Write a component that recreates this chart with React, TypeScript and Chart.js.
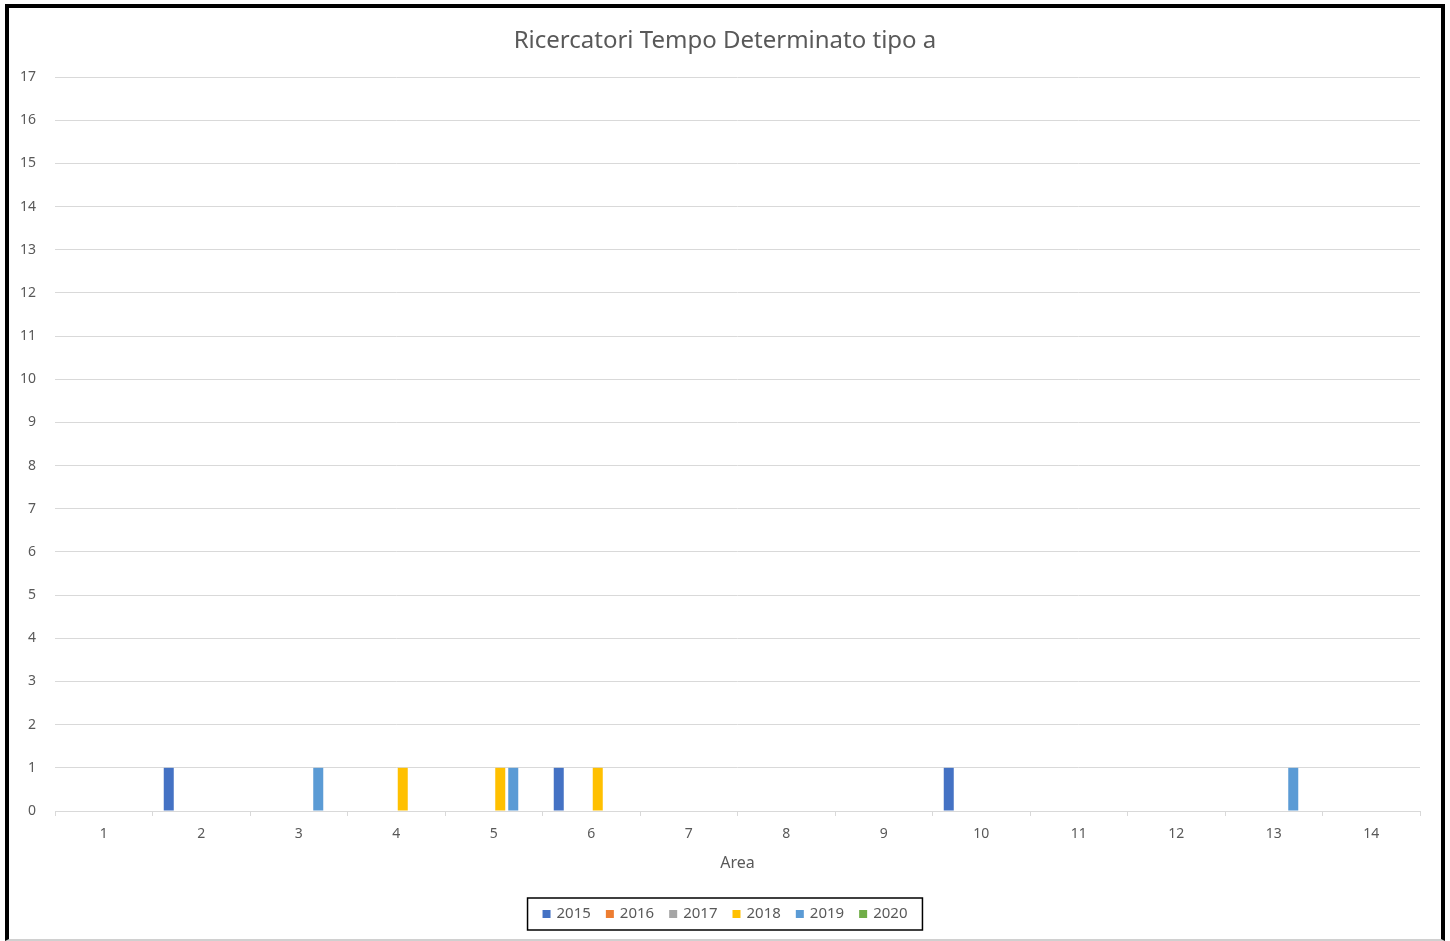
import React, { useEffect, useRef } from "react";
import { Chart, registerables } from "chart.js";

Chart.register(...registerables);

const categories = ["1", "2", "3", "4", "5", "6", "7", "8", "9", "10", "11", "12", "13", "14"];
const seriesNames = ["2015", "2016", "2017", "2018", "2019", "2020"];
const values2015 = [0, 1, 0, 0, 0, 1, 0, 0, 0, 1, 0, 0, 0, 0];
const values2016 = [0, 0, 0, 0, 0, 0, 0, 0, 0, 0, 0, 0, 0, 0];
const values2017 = [0, 0, 0, 0, 0, 0, 0, 0, 0, 0, 0, 0, 0, 0];
const values2018 = [0, 0, 0, 1, 1, 1, 0, 0, 0, 0, 0, 0, 0, 0];
const values2019 = [0, 0, 1, 0, 1, 0, 0, 0, 0, 0, 0, 0, 1, 0];
const values2020 = [0, 0, 0, 0, 0, 0, 0, 0, 0, 0, 0, 0, 0, 0];
const seriesColors = ["#4472C4", "#ED7D31", "#A5A5A5", "#FFC000", "#5B9BD5", "#70AD47"];
const yMin = 0;
const yMax = 17;
const titleText = "Ricercatori Tempo Determinato tipo a";
const xTitleText = "Area";

const FONT = "'Noto Sans', 'Open Sans', sans-serif";
const TEXT = "#595959";
const GRID = "#d9d9d9";

const legendPlugin = {
  id: "boxLegend",
  afterDraw(chart: any) {
    const ctx = chart.ctx;
    const ds = chart.data.datasets;
    ctx.save();
    ctx.font = `15px ${FONT}`;
    const box = 8;
    const gap = 6;
    const spacing = 15;
    const widths = ds.map((d: any) => ctx.measureText(d.label).width);
    let total = 0;
    widths.forEach((w: number, i: number) => {
      total += box + gap + w + (i < widths.length - 1 ? spacing : 0);
    });
    const cx = chart.width / 2;
    const cy = 906;
    const padX = 15;
    const left = cx - total / 2;
    ctx.strokeStyle = "#000";
    ctx.lineWidth = 1.5;
    ctx.strokeRect(left - padX, cy - 16, total + padX * 2, 32);
    let x = left;
    ctx.textBaseline = "middle";
    ds.forEach((d: any, i: number) => {
      ctx.fillStyle = d.backgroundColor;
      ctx.fillRect(x, cy - box / 2, box, box);
      x += box + gap;
      ctx.fillStyle = TEXT;
      ctx.fillText(d.label, x, cy);
      x += widths[i] + spacing;
    });
    ctx.restore();
  },
};

export default function App() {
  const ref = useRef<HTMLCanvasElement | null>(null);
  useEffect(() => {
    if (!ref.current) return;
    const allValues = [values2015, values2016, values2017, values2018, values2019, values2020];
    const chart = new Chart(ref.current, {
      type: "bar",
      data: {
        labels: categories,
        datasets: seriesNames.map((name, i) => ({
          label: name,
          data: allValues[i],
          backgroundColor: seriesColors[i],
          borderWidth: 0,
          categoryPercentage: 0.8,
          barPercentage: 0.77,
        })),
      },
      options: {
        responsive: false,
        animation: false,
        layout: { padding: { left: 0, right: 0, top: 0, bottom: 58 } },
        plugins: {
          legend: { display: false },
          tooltip: { enabled: false },
          title: {
            display: true,
            text: titleText,
            color: TEXT,
            font: { family: FONT, size: 24, weight: "normal" },
            padding: { top: 18.6, bottom: 21.6 },
          },
        },
        scales: {
          x: {
            grid: {
              display: true,
              drawOnChartArea: false,
              drawTicks: true,
              tickLength: 5,
              color: GRID,
              offset: true,
            },
            border: { display: true, color: GRID },
            ticks: { color: TEXT, font: { family: FONT, size: 14 }, padding: 10 },
            title: {
              display: true,
              text: xTitleText,
              color: TEXT,
              font: { family: FONT, size: 16 },
              padding: { top: 4, bottom: 8 },
            },
            afterFit: (s: any) => {
              s.height = 70;
            },
          },
          y: {
            min: yMin,
            max: yMax,
            grid: { color: GRID, drawTicks: false },
            border: { display: false },
            ticks: { stepSize: 1, color: TEXT, font: { family: FONT, size: 14 }, padding: 19 },
            afterFit: (s: any) => {
              s.width = 46;
            },
          },
          yRight: {
            position: "right",
            display: true,
            grid: { display: false, drawTicks: false },
            border: { display: false },
            ticks: { display: false },
            afterFit: (s: any) => {
              s.width = 21;
            },
          },
        },
      },
      plugins: [legendPlugin],
    });
    return () => chart.destroy();
  }, []);
  return (
    <div
      style={{
        position: "fixed",
        left: 5,
        top: 4,
        width: 1440,
        height: 937,
        boxSizing: "border-box",
        borderStyle: "solid",
        borderColor: "#000",
        borderWidth: "4px 4px 2px 4px",
        borderBottomColor: "#d0d0d0",
        background: "#fff",
      }}
    >
      <canvas ref={ref} width={1432} height={931} style={{ display: "block" }} />
    </div>
  );
}
